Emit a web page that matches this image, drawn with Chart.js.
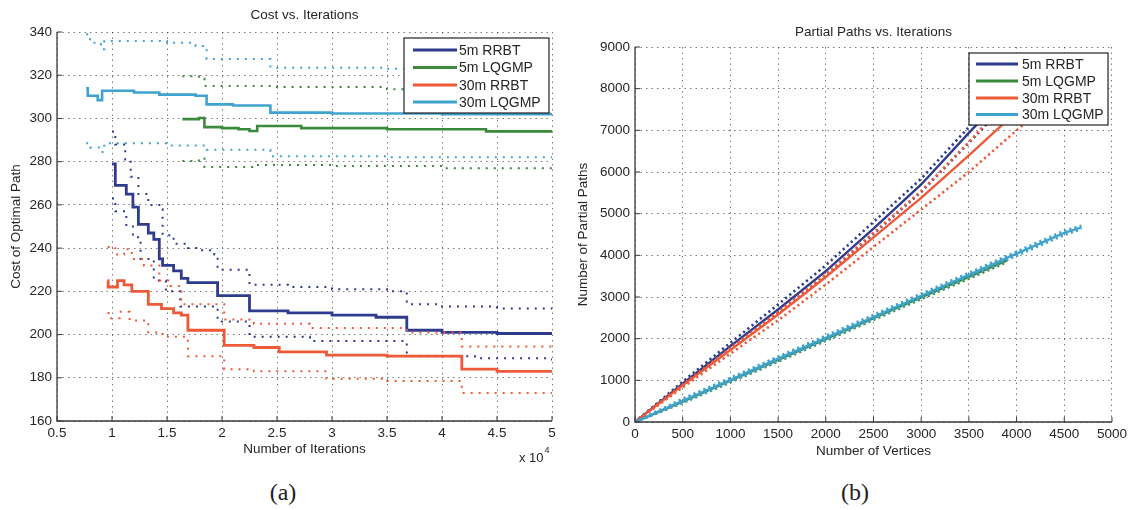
<!DOCTYPE html>
<html>
<head>
<meta charset="utf-8">
<script src="https://cdn.jsdelivr.net/npm/chart.js@4.4.1/dist/chart.umd.min.js"></script>
<style>
    html, body { margin: 0; padding: 0; background: #fff; }
    body { width: 1131px; height: 510px; position: relative; overflow: hidden; }
    .painel { position: absolute; top: 0; height: 470px; }
    #painelA { left: 0; width: 570px; }
    #painelB { left: 570px; width: 561px; }
    .rotulo {
        position: absolute; top: 479px; line-height: 26px;
        font-family: 'Liberation Serif', 'DejaVu Serif', serif; font-size: 24px; color: #222;
        transform: translateX(-50%);
    }
</style>
</head>
<body>
<div class="painel" id="painelA"><canvas id="chartCusto"></canvas></div>
<div class="painel" id="painelB"><canvas id="chartCaminhos"></canvas></div>
<div class="rotulo" style="left:283px">(a)</div>
<div class="rotulo" style="left:855px">(b)</div>

<script>
const seriesNames = ['5m RRBT', '5m LQGMP', '30m RRBT', '30m LQGMP'];
const seriesColors = ['#2f3c8e', '#3b8a3c', '#ee5a38', '#3fa3cf'];

// (a) custo x iteracoes, iteracoes em unidades de 10^4
const iterTicks = [0.5, 1, 1.5, 2, 2.5, 3, 3.5, 4, 4.5, 5];
const costTicks = [160, 180, 200, 220, 240, 260, 280, 300, 320, 340];

const rrbt5Iter = [1.0, 1.03, 1.13, 1.19, 1.24, 1.33, 1.38, 1.43, 1.46, 1.56, 1.63, 1.69, 1.96, 2.25, 2.6, 3.0, 3.4, 3.68, 4.0, 4.5, 5.0];
const rrbt5Cost = [279, 269, 265, 259, 251, 247, 244, 235, 232, 229.5, 226, 224, 218, 211, 210, 209, 208, 202, 201, 200.5, 200];
const rrbt5UpIter = [1.0, 1.03, 1.12, 1.17, 1.24, 1.33, 1.43, 1.46, 1.56, 1.69, 1.8, 1.93, 1.96, 2.25, 2.6, 3.0, 3.5, 3.68, 4.0, 4.5, 5.0];
const rrbt5UpCost = [294, 288, 281, 273, 265, 260, 258, 246, 242, 240, 239, 237, 230, 223, 222, 221, 220, 214, 213, 212, 212];
const rrbt5LoIter = [1.0, 1.03, 1.13, 1.19, 1.26, 1.38, 1.49, 1.62, 1.96, 2.25, 2.8, 3.68, 4.3, 5.0];
const rrbt5LoCost = [263, 257, 250, 245, 235, 225, 220, 213, 206, 199, 197, 190, 189, 188];

const lqgmp5Iter = [1.64, 1.79, 1.84, 2.0, 2.15, 2.25, 2.32, 2.72, 3.5, 4.4, 5.0];
const lqgmp5Cost = [299.7, 300.2, 296, 295.5, 295, 294.2, 296.5, 295.5, 295, 294, 293.7];
const lqgmp5UpIter = [1.64, 1.79, 1.84, 2.5, 3.5, 5.0];
const lqgmp5UpCost = [319.5, 318.5, 315, 314.5, 313.5, 313];
const lqgmp5LoIter = [1.64, 1.79, 1.84, 2.3, 3.0, 4.0, 5.0];
const lqgmp5LoCost = [280.3, 281.5, 277.5, 278.5, 278, 277, 276];

const rrbt30Iter = [0.96, 0.965, 1.05, 1.11, 1.18, 1.33, 1.45, 1.56, 1.63, 1.69, 2.02, 2.29, 2.52, 2.95, 3.5, 4.18, 4.5, 5.0];
const rrbt30Cost = [225, 222, 225, 223, 220, 214, 212, 210, 209, 202, 195, 194, 192, 190.5, 190, 184, 183, 182.5];
const rrbt30UpIter = [0.96, 1.03, 1.11, 1.18, 1.29, 1.43, 1.53, 1.63, 2.02, 2.29, 2.8, 3.68, 4.18, 5.0];
const rrbt30UpCost = [240.5, 237, 239.5, 235, 232, 225, 222.5, 214, 207, 205, 203, 201, 194.5, 193.5];
const rrbt30LoIter = [0.96, 0.98, 1.07, 1.16, 1.33, 1.46, 1.69, 2.02, 2.29, 2.95, 3.5, 4.18, 5.0];
const rrbt30LoCost = [210, 207.5, 210.5, 206.5, 201, 199, 190, 184, 183, 179.5, 178.5, 173, 172];

const lqgmp30Iter = [0.765, 0.78, 0.87, 0.91, 1.2, 1.43, 1.76, 1.86, 2.1, 2.44, 3.0, 4.0, 5.0];
const lqgmp30Cost = [314, 310.5, 308.5, 312.8, 312, 311, 310.5, 306.5, 306, 302.7, 302.3, 302, 301.8];
const lqgmp30UpIter = [0.765, 0.8, 0.9, 0.93, 1.5, 1.76, 1.86, 2.44, 3.5, 5.0];
const lqgmp30UpCost = [339, 335, 332, 335.8, 335, 333.5, 327.5, 323.5, 323, 322];
const lqgmp30LoIter = [0.765, 0.8, 0.9, 0.93, 1.5, 1.76, 1.86, 2.44, 3.5, 5.0];
const lqgmp30LoCost = [288.5, 286.5, 284.5, 288.5, 287.5, 287.5, 285.5, 282.5, 282, 281.5];

// (b) caminhos parciais x vertices
const vertTicks = [0, 500, 1000, 1500, 2000, 2500, 3000, 3500, 4000, 4500, 5000];
const pathTicks = [0, 1000, 2000, 3000, 4000, 5000, 6000, 7000, 8000, 9000];

const rrbt5Vert = [0, 500, 1000, 1500, 2000, 2500, 3000, 3500, 4000, 4250];
const rrbt5Paths = [0, 920, 1820, 2700, 3620, 4640, 5700, 6940, 8150, 8650];
const rrbt5UpPaths = [0, 970, 1900, 2820, 3760, 4800, 5840, 7080, 8300, 8850];
const rrbt5LoPaths = [0, 890, 1760, 2620, 3520, 4520, 5520, 6700, 7900, 8400];

const lqgmp5Vert = [0, 500, 1000, 1500, 2000, 2500, 3000, 3500, 3900];
const lqgmp5Paths = [0, 490, 990, 1490, 1990, 2490, 2990, 3480, 3880];
const lqgmp5UpPaths = [0, 520, 1030, 1530, 2030, 2530, 3030, 3520, 3920];
const lqgmp5LoPaths = [0, 460, 950, 1450, 1950, 2450, 2950, 3440, 3840];

const rrbt30Vert = [0, 500, 1000, 1500, 2000, 2500, 3000, 3500, 4000, 4150];
const rrbt30Paths = [0, 880, 1730, 2580, 3480, 4430, 5380, 6400, 7450, 7750];
const rrbt30UpPaths = [0, 900, 1770, 2640, 3540, 4540, 5540, 6720, 7950, 8250];
const rrbt30LoPaths = [0, 830, 1640, 2440, 3300, 4200, 5100, 6000, 7000, 7300];

const lqgmp30Vert = [0, 500, 1000, 1500, 2000, 2500, 3000, 3500, 4000, 4500, 4680];
const lqgmp30Paths = [0, 510, 1010, 1520, 2020, 2520, 3030, 3530, 4040, 4540, 4670];
const lqgmp30UpPaths = [0, 560, 1060, 1570, 2070, 2570, 3080, 3580, 4090, 4590, 4710];
const lqgmp30LoPaths = [0, 460, 960, 1470, 1970, 2470, 2980, 3480, 3990, 4490, 4630];

const fonte = "'Liberation Sans', Arial, sans-serif";
const corTexto = '#262626';
const corGrade = 'rgba(55, 55, 55, 0.65)';

Chart.defaults.font.family = fonte;
Chart.defaults.color = corTexto;

function serie(xs, ys, cor, pontilhada, ordem, degrau, largura) {
    return {
        data: xs.map((x, i) => ({ x: x, y: ys[i] })),
        borderColor: cor,
        borderWidth: largura,
        borderDash: pontilhada ? (degrau ? [2, 6] : [2.2, 3.2]) : [],
        stepped: degrau,
        pointRadius: 0,
        tension: 0,
        order: ordem,
        fill: false
    };
}

// eixos com marcas para dentro, titulo, legenda e expoente do eixo x
const moldura = {
    id: 'moldura',
    afterDraw(chart, args, opts) {
        const { ctx, chartArea: area, scales } = chart;
        ctx.save();

        ctx.strokeStyle = '#3a3a3a';
        ctx.lineWidth = 1.3;
        ctx.beginPath();
        ctx.moveTo(area.left, area.top);
        ctx.lineTo(area.left, area.bottom);
        ctx.lineTo(area.right, area.bottom);
        ctx.stroke();

        ctx.lineWidth = 1;
        ctx.beginPath();
        scales.x.ticks.forEach((t) => {
            const px = scales.x.getPixelForValue(t.value);
            ctx.moveTo(px, area.bottom);
            ctx.lineTo(px, area.bottom - 5);
        });
        scales.y.ticks.forEach((t) => {
            const py = scales.y.getPixelForValue(t.value);
            ctx.moveTo(area.left, py);
            ctx.lineTo(area.left + 5, py);
        });
        ctx.stroke();

        ctx.fillStyle = corTexto;
        ctx.font = `13.5px ${fonte}`;
        ctx.textAlign = 'center';
        ctx.textBaseline = 'middle';
        ctx.fillText(opts.titulo, (area.left + area.right) / 2, opts.tituloY);

        if (opts.expoente) {
            ctx.textAlign = 'left';
            ctx.font = `13px ${fonte}`;
            ctx.fillText('x 10', opts.expoente[0], opts.expoente[1]);
            const w = ctx.measureText('x 10').width;
            ctx.font = `9px ${fonte}`;
            ctx.fillText('4', opts.expoente[0] + w + 1, opts.expoente[1] - 7);
        }

        const leg = opts.legenda;
        ctx.fillStyle = '#fff';
        ctx.fillRect(leg.x, leg.y, leg.w, leg.h);
        ctx.strokeStyle = '#222';
        ctx.lineWidth = 1.2;
        ctx.strokeRect(leg.x, leg.y, leg.w, leg.h);
        ctx.font = `14px ${fonte}`;
        ctx.textAlign = 'left';
        seriesNames.forEach((nome, i) => {
            const y = leg.y + leg.linhas[i];
            ctx.strokeStyle = seriesColors[i];
            ctx.lineWidth = 3;
            ctx.beginPath();
            ctx.moveTo(leg.x + leg.amostra[0], y);
            ctx.lineTo(leg.x + leg.amostra[1], y);
            ctx.stroke();
            ctx.fillStyle = corTexto;
            ctx.fillText(nome, leg.x + leg.texto, y + 1);
        });

        ctx.restore();
    }
};

function escala(ticks, min, max, titulo, tituloPad, tamanho, horizontal) {
    return {
        type: 'linear',
        min: min,
        max: max,
        afterBuildTicks: (s) => { s.ticks = ticks.map((v) => ({ value: v })); },
        afterFit: (s) => { if (horizontal) { s.height = tamanho; } else { s.width = tamanho; } },
        ticks: {
            padding: horizontal ? 4 : 5,
            autoSkip: false,
            maxRotation: 0,
            font: { size: 13.5 },
            color: corTexto,
            callback: (v) => String(v)
        },
        grid: { drawTicks: false, color: corGrade, lineWidth: 1 },
        border: { display: false, dash: [1.5, 4] },
        title: { display: true, text: titulo, font: { size: 13.5 }, color: corTexto, padding: tituloPad }
    };
}

function carregarGraficoCusto() {
    const c = seriesColors;
    const datasets = [
        serie(rrbt5Iter, rrbt5Cost, c[0], false, 4, true, 2.8),
        serie(rrbt5UpIter, rrbt5UpCost, c[0], true, 4, true, 2),
        serie(rrbt5LoIter, rrbt5LoCost, c[0], true, 4, true, 2),
        serie(lqgmp5Iter, lqgmp5Cost, c[1], false, 3, true, 2.6),
        serie(lqgmp5UpIter, lqgmp5UpCost, c[1], true, 3, true, 2),
        serie(lqgmp5LoIter, lqgmp5LoCost, c[1], true, 3, true, 2),
        serie(rrbt30Iter, rrbt30Cost, c[2], false, 2, true, 2.8),
        serie(rrbt30UpIter, rrbt30UpCost, c[2], true, 2, true, 2),
        serie(rrbt30LoIter, rrbt30LoCost, c[2], true, 2, true, 2),
        serie(lqgmp30Iter, lqgmp30Cost, c[3], false, 1, true, 2.6),
        serie(lqgmp30UpIter, lqgmp30UpCost, c[3], true, 1, true, 2),
        serie(lqgmp30LoIter, lqgmp30LoCost, c[3], true, 1, true, 2)
    ];

    new Chart(document.getElementById('chartCusto'), {
        type: 'line',
        data: { datasets: datasets },
        plugins: [moldura],
        options: {
            responsive: true,
            maintainAspectRatio: false,
            animation: false,
            events: [],
            layout: { padding: { top: 32, right: 18, left: 0, bottom: 0 } },
            plugins: {
                legend: { display: false },
                tooltip: { enabled: false },
                moldura: {
                    titulo: 'Cost vs. Iterations',
                    tituloY: 15,
                    expoente: [519, 458],
                    legenda: { x: 404, y: 38, w: 145, h: 75, linhas: [12, 29.5, 47, 64], amostra: [9, 53], texto: 55 }
                }
            },
            scales: {
                x: escala(iterTicks, 0.5, 5, 'Number of Iterations', { top: 0, bottom: 13 }, 49, true),
                y: escala(costTicks, 160, 340, 'Cost of Optimal Path', { top: 8, bottom: 0 }, 57, false)
            }
        }
    });
}

function carregarGraficoCaminhos() {
    const c = seriesColors;
    const datasets = [
        serie(rrbt5Vert, rrbt5Paths, c[0], false, 4, false, 2.4),
        serie(rrbt5Vert, rrbt5UpPaths, c[0], true, 4, false, 2.6),
        serie(rrbt5Vert, rrbt5LoPaths, c[0], true, 4, false, 2.6),
        serie(lqgmp5Vert, lqgmp5Paths, c[1], false, 3, false, 2.4),
        serie(lqgmp5Vert, lqgmp5UpPaths, c[1], true, 3, false, 2.6),
        serie(lqgmp5Vert, lqgmp5LoPaths, c[1], true, 3, false, 2.6),
        serie(rrbt30Vert, rrbt30Paths, c[2], false, 2, false, 2.4),
        serie(rrbt30Vert, rrbt30UpPaths, c[2], true, 2, false, 2.6),
        serie(rrbt30Vert, rrbt30LoPaths, c[2], true, 2, false, 2.6),
        serie(lqgmp30Vert, lqgmp30Paths, c[3], false, 1, false, 2.4),
        serie(lqgmp30Vert, lqgmp30UpPaths, c[3], true, 1, false, 2.6),
        serie(lqgmp30Vert, lqgmp30LoPaths, c[3], true, 1, false, 2.6)
    ];

    new Chart(document.getElementById('chartCaminhos'), {
        type: 'line',
        data: { datasets: datasets },
        plugins: [moldura],
        options: {
            responsive: true,
            maintainAspectRatio: false,
            animation: false,
            events: [],
            layout: { padding: { top: 47, right: 18, left: 0, bottom: 0 } },
            plugins: {
                legend: { display: false },
                tooltip: { enabled: false },
                moldura: {
                    titulo: 'Partial Paths vs. Iterations',
                    tituloY: 32,
                    expoente: null,
                    legenda: { x: 399, y: 53, w: 139, h: 72, linhas: [11, 28, 45, 61.5], amostra: [7, 49], texto: 53 }
                }
            },
            scales: {
                x: escala(vertTicks, 0, 5000, 'Number of Vertices', { top: 0, bottom: 11 }, 48, true),
                y: escala(pathTicks, 0, 9000, 'Number of Partial Paths', { top: 5, bottom: 0 }, 65, false)
            }
        }
    });
}

carregarGraficoCusto();
carregarGraficoCaminhos();
</script>
</body>
</html>
